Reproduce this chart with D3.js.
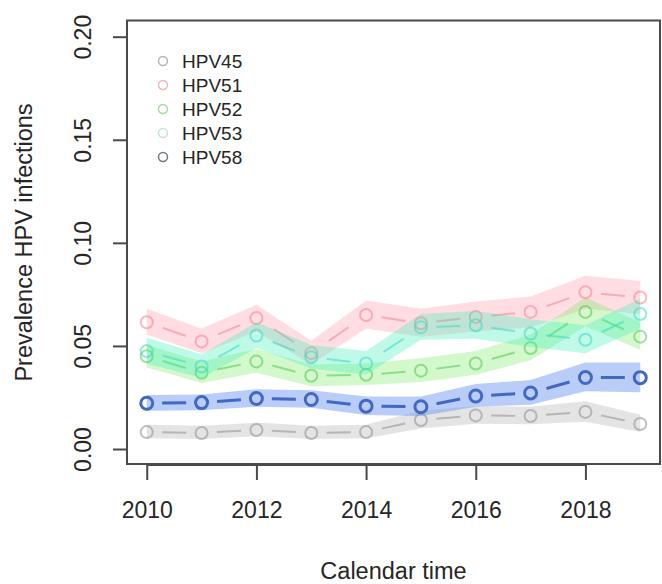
<!DOCTYPE html>
<html><head><meta charset="utf-8">
<script src="https://cdn.jsdelivr.net/npm/d3@7"></script>
<style>body{margin:0;background:#fff}svg{display:block}text{font-family:"Liberation Sans",Arial,sans-serif;fill:#262626}</style>
</head><body><svg id="c" width="662" height="584"></svg>
<script>
const years = [2010,2011,2012,2013,2014,2015,2016,2017,2018,2019];
const xTicks = [2010,2012,2014,2016,2018];
const yTicks = [0.00,0.05,0.10,0.15,0.20];
const seriesNames = ["HPV45","HPV51","HPV52","HPV53","HPV58"];

const hpv45   = [0.0082,0.0078,0.0092,0.0078,0.0082,0.0141,0.0163,0.0160,0.0180,0.0121];
const hpv45Lo = [0.0052,0.0049,0.0062,0.0049,0.0052,0.0100,0.0122,0.0120,0.0132,0.0082];
const hpv45Hi = [0.0118,0.0113,0.0128,0.0113,0.0118,0.0187,0.0208,0.0205,0.0232,0.0166];

const hpv51   = [0.0615,0.0522,0.0635,0.0465,0.0650,0.0610,0.0640,0.0665,0.0760,0.0735];
const hpv51Lo = [0.0555,0.0465,0.0570,0.0410,0.0585,0.0545,0.0570,0.0590,0.0680,0.0655];
const hpv51Hi = [0.0680,0.0585,0.0700,0.0525,0.0720,0.0680,0.0715,0.0740,0.0840,0.0815];

const hpv52   = [0.0450,0.0370,0.0425,0.0355,0.0360,0.0380,0.0415,0.0490,0.0665,0.0545];
const hpv52Lo = [0.0395,0.0320,0.0370,0.0305,0.0310,0.0325,0.0360,0.0430,0.0595,0.0480];
const hpv52Hi = [0.0505,0.0425,0.0485,0.0410,0.0415,0.0440,0.0475,0.0555,0.0735,0.0615];

const hpv53   = [0.0475,0.0400,0.0550,0.0445,0.0415,0.0590,0.0600,0.0560,0.0530,0.0655];
const hpv53Lo = [0.0415,0.0345,0.0490,0.0390,0.0360,0.0530,0.0535,0.0495,0.0465,0.0585];
const hpv53Hi = [0.0540,0.0460,0.0615,0.0505,0.0475,0.0655,0.0670,0.0630,0.0600,0.0730];

const hpv58   = [0.0222,0.0225,0.0245,0.0240,0.0208,0.0205,0.0257,0.0272,0.0347,0.0346];
const hpv58Lo = [0.0185,0.0188,0.0205,0.0200,0.0165,0.0160,0.0205,0.0215,0.0280,0.0275];
const hpv58Hi = [0.0262,0.0265,0.0290,0.0285,0.0255,0.0255,0.0315,0.0335,0.0420,0.0420];

const series = [
  {name:"HPV45", v:hpv45, lo:hpv45Lo, hi:hpv45Hi, band:"rgba(185,185,185,0.38)", line:"rgba(150,150,150,0.6)", lw:2, legend:"#b4b4b4"},
  {name:"HPV51", v:hpv51, lo:hpv51Lo, hi:hpv51Hi, band:"rgba(255,150,165,0.32)", line:"rgba(240,130,145,0.55)", lw:2, legend:"#f2b4b8"},
  {name:"HPV52", v:hpv52, lo:hpv52Lo, hi:hpv52Hi, band:"rgba(120,235,100,0.33)", line:"rgba(80,200,80,0.55)", lw:2, legend:"#a8d8a8"},
  {name:"HPV53", v:hpv53, lo:hpv53Lo, hi:hpv53Hi, band:"rgba(60,240,185,0.33)", line:"rgba(60,215,195,0.55)", lw:2, legend:"#c4e2e0"},
  {name:"HPV58", v:hpv58, lo:hpv58Lo, hi:hpv58Hi, band:"rgba(100,145,240,0.45)", line:"#4169c0", lw:3, legend:"#6b7a86"}
];

const svg = d3.select("#c");
const x = d3.scaleLinear().domain([2010-0.36, 2019+0.36]).range([127, 660]);
const y = d3.scaleLinear().domain([-0.008, 0.208]).range([465.5, 20.2]);

series.forEach(s => {
  const area = d3.area().x((d,i)=>x(years[i])).y0((d,i)=>y(s.lo[i])).y1((d,i)=>y(s.hi[i]));
  svg.append("path").attr("d", area(s.v)).attr("fill", s.band).attr("stroke","none");
  const g = svg.append("g");
  for (let i=0;i<years.length-1;i++){
    const x1=x(years[i]), y1=y(s.v[i]), x2=x(years[i+1]), y2=y(s.v[i+1]);
    const L=Math.hypot(x2-x1,y2-y1), gap=12;
    const ux=(x2-x1)/L, uy=(y2-y1)/L;
    const Lp=L-2*gap, dash=Math.min(24,Lp);
    g.append("line")
      .attr("x1",x1+ux*gap).attr("y1",y1+uy*gap)
      .attr("x2",x2-ux*gap).attr("y2",y2-uy*gap)
      .attr("stroke",s.line).attr("stroke-width",s.lw)
      .attr("stroke-dasharray",`${dash},200`)
      .attr("stroke-dashoffset",-(Lp-dash)/2);
  }
  g.selectAll("circle").data(s.v).join("circle")
    .attr("cx",(d,i)=>x(years[i])).attr("cy",d=>y(d)).attr("r",6)
    .attr("fill","none").attr("stroke",s.line).attr("stroke-width",s.lw);
});

svg.append("rect").attr("x",127).attr("y",20.5).attr("width",533).attr("height",443.5)
  .attr("fill","none").attr("stroke","#4a4a4a").attr("stroke-width",2);

const xAxis = d3.axisBottom(x).tickValues(xTicks).tickFormat(d3.format("d")).tickSize(15).tickPadding(22);
const gx = svg.append("g").attr("transform","translate(0,465)").call(xAxis);
gx.select(".domain").attr("stroke","#4a4a4a").attr("stroke-width",2).attr("d",`M${x(2010)},0H${x(2018)}`);
gx.selectAll(".tick line").attr("stroke","#4a4a4a").attr("stroke-width",2);
gx.selectAll(".tick text").style("font-size","23px").attr("fill","#262626").attr("dy",0).attr("y",53);

const yAxis = d3.axisLeft(y).tickValues(yTicks).tickFormat(d3.format(".2f")).tickSize(14);
const gy = svg.append("g").attr("transform","translate(127,0)").call(yAxis);
gy.select(".domain").attr("stroke","#4a4a4a").attr("stroke-width",2).attr("d",`M0,${y(0)}V${y(0.2)}`);
gy.selectAll(".tick line").attr("stroke","#4a4a4a").attr("stroke-width",2);
gy.selectAll(".tick text").style("font-size","23px").attr("fill","#262626")
  .attr("x",null).attr("dy",null).attr("text-anchor","middle")
  .attr("transform","translate(-36,0) rotate(-90)");

svg.append("text").attr("x",393.5).attr("y",579).attr("text-anchor","middle")
  .style("font-size","23.5px").text("Calendar time");
svg.append("text").attr("transform","translate(32,242.5) rotate(-90)").attr("text-anchor","middle")
  .style("font-size","23.5px").text("Prevalence HPV infections");

const leg = svg.append("g");
seriesNames.forEach((n,i)=>{
  const s = series.find(t=>t.name===n);
  const cy = 61 + i*24;
  leg.append("circle").attr("cx",163).attr("cy",cy).attr("r",4.5)
    .attr("fill","none").attr("stroke",s.legend).attr("stroke-width",1.5);
  leg.append("text").attr("x",182).attr("y",cy+7).style("font-size","19px").text(n);
});
</script></body></html>
